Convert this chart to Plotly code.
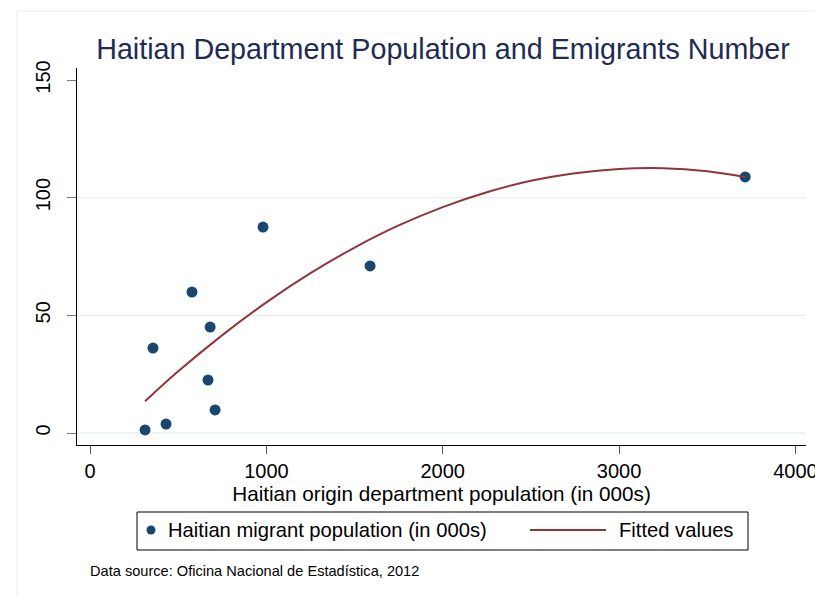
import plotly.graph_objects as go

# Data
dept_pop = [312, 357, 431, 578, 669, 681, 709, 981, 1588, 3715]
migrant_pop = [1.3, 36.1, 3.8, 59.9, 22.5, 45.0, 9.8, 87.5, 71.0, 108.8]

fit_x = [312, 500, 750, 1000, 1250, 1500, 1750, 2000, 2250, 2500, 2750, 3000, 3250, 3500, 3715]
fit_y = [13.5, 26.2, 41.6, 55.5, 67.9, 78.8, 88.2, 96.0, 102.3, 107.2, 110.4, 112.2, 112.5, 111.2, 108.8]

x_ticks = [0, 1000, 2000, 3000, 4000]
y_ticks = [0, 50, 100, 150]
y_grid = [0, 50, 100]

title_text = "Haitian Department Population and Emigrants Number"
x_title = "Haitian origin department population (in 000s)"
note_text = "Data source: Oficina Nacional de Estadística, 2012"
legend_names = ["Haitian migrant population (in 000s)", "Fitted values"]

NAVY = "#1a476f"
MAROON = "#90353b"
FONT = "Liberation Sans, Arial, sans-serif"

# page body margin offsets the figure by 8px; work in screen coordinates
OFF = 8
SW, SH = 823, 597
W, H = SW - OFF, SH - OFF
PL, PR, PT, PB = 77, 806, 68, 445  # plot area in screen px
L, R, T, B = PL - OFF, SW - PR, PT - OFF, SH - PB
PW, PH = W - L - R, H - T - B


def px(xs):
    return (xs - PL) / PW


def py(ys):
    return (PB - ys) / PH


fig = go.Figure()
fig.add_trace(go.Scatter(
    x=dept_pop, y=migrant_pop, mode="markers", name=legend_names[0],
    marker=dict(color=NAVY, size=11, line=dict(width=0)),
))
fig.add_trace(go.Scatter(
    x=fit_x, y=fit_y, mode="lines", name=legend_names[1],
    line=dict(color=MAROON, width=2, shape="spline"),
))

shapes = []
# faint outer region border
shapes.append(dict(type="rect", xref="paper", yref="paper",
                   x0=px(17), x1=px(SW + 5), y0=py(SH + 5), y1=py(11),
                   line=dict(color="#e6eef0", width=1), layer="below"))
for g in y_grid:
    shapes.append(dict(type="line", xref="paper", yref="y", x0=0, x1=1, y0=g, y1=g,
                       line=dict(color="#e8f0f2", width=1.5), layer="below"))

# legend box (drawn manually to match the reference layout)
shapes.append(dict(type="rect", xref="paper", yref="paper",
                   x0=px(137), x1=px(748), y0=py(550), y1=py(512),
                   line=dict(color="black", width=1), fillcolor="white"))
shapes.append(dict(type="circle", xref="paper", yref="paper",
                   x0=px(146.5), x1=px(155.5), y0=py(534.5), y1=py(525.5),
                   line=dict(width=0), fillcolor=NAVY))
shapes.append(dict(type="line", xref="paper", yref="paper",
                   x0=px(530), x1=px(606), y0=py(530), y1=py(530),
                   line=dict(color=MAROON, width=2)))

annotations = [
    dict(text=legend_names[0], xref="paper", yref="paper", x=px(166), xanchor="left",
         y=py(530), yanchor="middle", showarrow=False, font=dict(size=20.2, color="black")),
    dict(text=legend_names[1], xref="paper", yref="paper", x=px(617), xanchor="left",
         y=py(530), yanchor="middle", showarrow=False, font=dict(size=20.2, color="black")),
    dict(text=note_text, xref="paper", yref="paper", x=px(88), xanchor="left",
         y=py(571), yanchor="middle", showarrow=False, font=dict(size=14.6, color="black")),
]

fig.update_layout(
    width=W, height=H,
    margin=dict(l=L, r=R, t=T, b=B, pad=0),
    paper_bgcolor="white", plot_bgcolor="white",
    font=dict(family=FONT, color="black", size=20),
    title=dict(text=title_text, x=(443 - OFF) / W, xanchor="center", y=1 - (49 - OFF) / H,
               yanchor="middle", font=dict(size=28.7, color="#1e2b55", family=FONT)),
    xaxis=dict(range=[-74, 4060], tickvals=x_ticks, ticktext=[str(v) for v in x_ticks],
               showgrid=False, zeroline=False, showline=True, linecolor="black", linewidth=1.2,
               ticks="outside", ticklen=8, tickcolor="#555555", tickwidth=1.2, automargin=False,
               tickfont=dict(size=20), title=dict(text=x_title, font=dict(size=20.7), standoff=4)),
    yaxis=dict(range=[-5.1, 155.1], tickvals=y_ticks, ticktext=[str(v) for v in y_ticks],
               showgrid=False, zeroline=False, showline=True, linecolor="black", linewidth=1.2,
               ticks="outside", ticklen=9, tickcolor="#777777", tickwidth=1.2, automargin=False,
               tickangle=-90, tickfont=dict(size=20), ticklabelstandoff=9),
    shapes=shapes,
    annotations=annotations,
    showlegend=False,
)

fig.write_html("out.html")
